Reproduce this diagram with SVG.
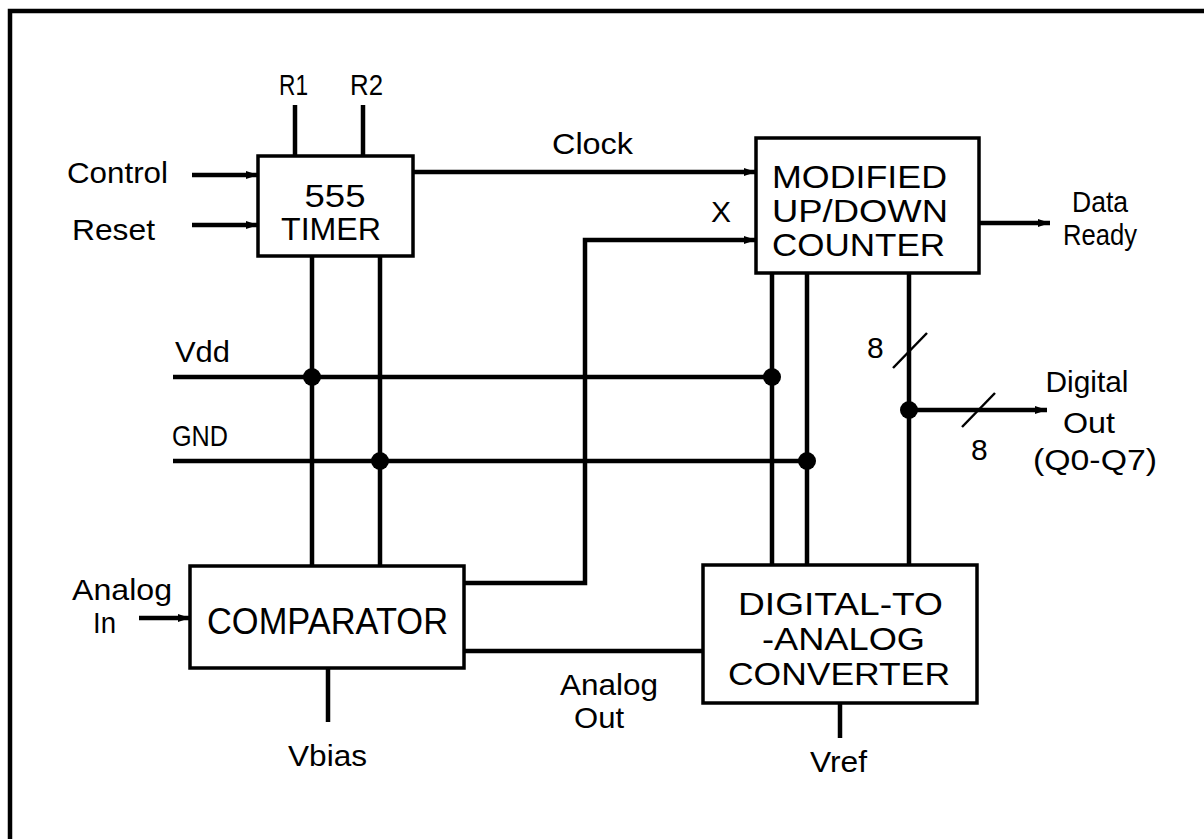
<svg xmlns="http://www.w3.org/2000/svg" width="1204" height="839" viewBox="0 0 1204 839">
<defs>
<style>
.box{fill:#fff;stroke:#000;stroke-width:3.5}
.w{fill:none;stroke:#000;stroke-width:4.5;stroke-linecap:butt}
.s{fill:none;stroke:#000;stroke-width:2.5}
.dot{fill:#000}
.lbl{font-family:"Liberation Sans",Arial,sans-serif;font-size:30px;fill:#000}
.big{font-family:"Liberation Sans",Arial,sans-serif;font-size:31px;fill:#000}
.big1{font-family:"Liberation Sans",Arial,sans-serif;font-size:36px;fill:#000}
</style>
<marker id="ah" markerUnits="userSpaceOnUse" markerWidth="12" markerHeight="10" refX="12" refY="5" orient="auto">
<path d="M0,1 L12,5 L0,9 Z" fill="#000"/>
</marker>
</defs>
<rect width="1204" height="839" fill="#fff"/>
<g id="border"><path class="w" d="M10,839 V11 H1204"/></g>

<g id="connectors">
<line class="w" x1="295" y1="105" x2="295" y2="156"/>
<line class="w" x1="363" y1="105" x2="363" y2="156"/>
<line class="w" x1="192" y1="175" x2="258" y2="175" marker-end="url(#ah)"/>
<line class="w" x1="192" y1="225" x2="258" y2="225" marker-end="url(#ah)"/>
<line class="w" x1="413" y1="172" x2="756" y2="172" marker-end="url(#ah)"/>
<path class="w" d="M464,583 H585 V240 H756" marker-end="url(#ah)"/>
<line class="w" x1="979" y1="223" x2="1050" y2="223" marker-end="url(#ah)"/>
<line class="w" x1="312" y1="256" x2="312" y2="566"/>
<line class="w" x1="380" y1="256" x2="380" y2="566"/>
<line class="w" x1="772" y1="273" x2="772" y2="565"/>
<line class="w" x1="807" y1="273" x2="807" y2="565"/>
<line class="w" x1="909" y1="273" x2="909" y2="565"/>
<line class="w" x1="173" y1="377" x2="772" y2="377"/>
<line class="w" x1="173" y1="461" x2="807" y2="461"/>
<line class="w" x1="909" y1="410" x2="1047" y2="410" marker-end="url(#ah)"/>
<line class="s" x1="893" y1="368" x2="927" y2="333"/>
<line class="s" x1="962" y1="427" x2="995" y2="393"/>
<line class="w" x1="139" y1="618" x2="190" y2="618" marker-end="url(#ah)"/>
<line class="w" x1="464" y1="651" x2="703" y2="651"/>
<line class="w" x1="328" y1="668" x2="328" y2="722"/>
<line class="w" x1="840" y1="703" x2="840" y2="738"/>
<circle class="dot" cx="312" cy="377" r="9"/>
<circle class="dot" cx="772" cy="377" r="9"/>
<circle class="dot" cx="380" cy="461" r="9"/>
<circle class="dot" cx="807" cy="461" r="9"/>
<circle class="dot" cx="909" cy="410" r="9"/>
</g>

<g id="timer">
<rect class="box" x="258" y="156" width="155" height="100"/>
<text class="big" x="335" y="207" text-anchor="middle" textLength="61" lengthAdjust="spacingAndGlyphs">555</text>
<text class="big" x="281" y="240" textLength="100" lengthAdjust="spacingAndGlyphs">TIMER</text>
</g>

<g id="counter">
<rect class="box" x="756" y="138" width="223" height="135"/>
<text class="big" x="772" y="188" textLength="175" lengthAdjust="spacingAndGlyphs">MODIFIED</text>
<text class="big" x="772" y="222" textLength="176" lengthAdjust="spacingAndGlyphs">UP/DOWN</text>
<text class="big" x="772" y="256" textLength="173" lengthAdjust="spacingAndGlyphs">COUNTER</text>
</g>

<g id="comparator">
<rect class="box" x="190" y="566" width="274" height="102"/>
<text class="big1" x="207" y="634" textLength="241" lengthAdjust="spacingAndGlyphs">COMPARATOR</text>
</g>

<g id="dac">
<rect class="box" x="703" y="565" width="274" height="138"/>
<text class="big" x="738" y="615" textLength="205" lengthAdjust="spacingAndGlyphs">DIGITAL-TO</text>
<text class="big" x="762" y="650" textLength="163" lengthAdjust="spacingAndGlyphs">-ANALOG</text>
<text class="big" x="728" y="685" textLength="222" lengthAdjust="spacingAndGlyphs">CONVERTER</text>
</g>

<g id="labels">
<text class="lbl" x="279" y="95" textLength="29" lengthAdjust="spacingAndGlyphs">R1</text>
<text class="lbl" x="350" y="95" textLength="33" lengthAdjust="spacingAndGlyphs">R2</text>
<text class="lbl" x="67" y="183" textLength="101" lengthAdjust="spacingAndGlyphs">Control</text>
<text class="lbl" x="72" y="240" textLength="83" lengthAdjust="spacingAndGlyphs">Reset</text>
<text class="lbl" x="552" y="154" textLength="81" lengthAdjust="spacingAndGlyphs">Clock</text>
<text class="lbl" x="711" y="222">X</text>
<text class="lbl" x="1100" y="212" text-anchor="middle" textLength="56" lengthAdjust="spacingAndGlyphs">Data</text>
<text class="lbl" x="1100" y="245" text-anchor="middle" textLength="74" lengthAdjust="spacingAndGlyphs">Ready</text>
<text class="lbl" x="175" y="362" textLength="55" lengthAdjust="spacingAndGlyphs">Vdd</text>
<text class="lbl" x="172" y="446" textLength="56" lengthAdjust="spacingAndGlyphs">GND</text>
<text class="lbl" x="867" y="358">8</text>
<text class="lbl" x="971" y="460">8</text>
<text class="lbl" x="1087" y="392" text-anchor="middle" textLength="83" lengthAdjust="spacingAndGlyphs">Digital</text>
<text class="lbl" x="1089" y="433" text-anchor="middle" textLength="52" lengthAdjust="spacingAndGlyphs">Out</text>
<text class="lbl" x="1095" y="470" text-anchor="middle" textLength="124" lengthAdjust="spacingAndGlyphs">(Q0-Q7)</text>
<text class="lbl" x="72" y="600" textLength="100" lengthAdjust="spacingAndGlyphs">Analog</text>
<text class="lbl" x="93" y="633" textLength="23" lengthAdjust="spacingAndGlyphs">In</text>
<text class="lbl" x="288" y="766" textLength="79" lengthAdjust="spacingAndGlyphs">Vbias</text>
<text class="lbl" x="560" y="695" textLength="98" lengthAdjust="spacingAndGlyphs">Analog</text>
<text class="lbl" x="574" y="728" textLength="50" lengthAdjust="spacingAndGlyphs">Out</text>
<text class="lbl" x="810" y="772" textLength="57" lengthAdjust="spacingAndGlyphs">Vref</text>
</g>
</svg>
